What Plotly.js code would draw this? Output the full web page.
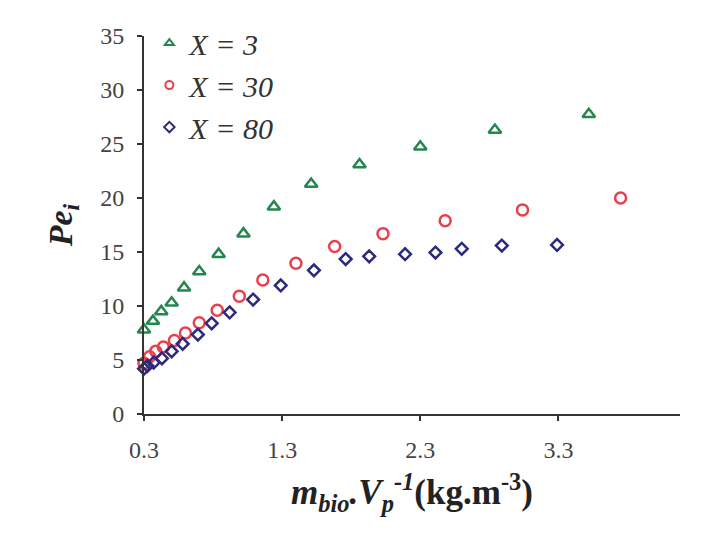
<!DOCTYPE html>
<html>
<head>
<meta charset="utf-8">
<script src="https://cdn.plot.ly/plotly-3.0.1.min.js"></script>
<style>
  html, body { margin: 0; padding: 0; background: #fff; }
  #chart { width: 714px; height: 539px; }
</style>
</head>
<body>
<div id="chart"></div>
<script>
// X = 3 series (green triangles)
const x3 = [0.30, 0.365, 0.425, 0.50, 0.59, 0.70, 0.84, 1.02, 1.24, 1.51, 1.86, 2.30, 2.84, 3.52];
const y3 = [7.8, 8.6, 9.5, 10.3, 11.7, 13.2, 14.8, 16.7, 19.2, 21.3, 23.1, 24.75, 26.3, 27.75];

// X = 30 series (red circles)
const x30 = [0.30, 0.34, 0.385, 0.44, 0.52, 0.60, 0.70, 0.83, 0.99, 1.16, 1.40, 1.68, 2.03, 2.48, 3.04, 3.75];
const y30 = [4.7, 5.3, 5.8, 6.2, 6.8, 7.5, 8.45, 9.6, 10.9, 12.4, 13.95, 15.5, 16.7, 17.9, 18.9, 20.0];

// X = 80 series (blue diamonds)
const x80 = [0.30, 0.325, 0.37, 0.43, 0.50, 0.58, 0.69, 0.79, 0.92, 1.09, 1.29, 1.53, 1.76, 1.93, 2.19, 2.41, 2.60, 2.89, 3.29];
const y80 = [4.2, 4.45, 4.75, 5.15, 5.8, 6.5, 7.35, 8.4, 9.4, 10.6, 11.9, 13.3, 14.35, 14.6, 14.8, 14.95, 15.3, 15.6, 15.65];

const seriesNames = ['X = 3', 'X = 30', 'X = 80'];
const xTicks = [0.3, 1.3, 2.3, 3.3];

const serif = 'Liberation Serif, Times New Roman, serif';
const colors = ['#23874f', '#e8404e', '#2c2a7c'];
const symbols = ['triangle-up-open', 'circle-open', 'diamond-open'];

function series(x, y, i, size) {
  return {
    x: x,
    y: y,
    name: seriesNames[i],
    legendgroup: seriesNames[i],
    showlegend: false,
    type: 'scatter',
    mode: 'markers',
    cliponaxis: false,
    marker: {
      symbol: symbols[i],
      size: size,
      color: colors[i],
      line: { color: colors[i], width: 2.5 }
    }
  };
}

// legend entries use smaller symbols, like the reference
function legendEntry(i) {
  return {
    x: [null],
    y: [null],
    name: seriesNames[i],
    legendgroup: seriesNames[i],
    type: 'scatter',
    mode: 'markers',
    marker: {
      symbol: symbols[i],
      size: 8,
      color: colors[i],
      line: { color: colors[i], width: 2 }
    }
  };
}

const data = [
  series(x3, y3, 0, 11),
  series(x30, y30, 1, 11),
  series(x80, y80, 2, 9),
  legendEntry(0),
  legendEntry(1),
  legendEntry(2)
];

const layout = {
  width: 714,
  height: 539,
  paper_bgcolor: '#fff',
  plot_bgcolor: '#fff',
  margin: { l: 144, r: 34, t: 36, b: 125 },
  showlegend: true,
  legend: {
    x: 0.01,
    y: 1.05,
    xanchor: 'left',
    yanchor: 'top',
    bgcolor: 'rgba(0,0,0,0)',
    itemsizing: 'trace',
    tracegroupgap: 0,
    font: { family: serif, size: 30, color: '#333', style: 'italic' }
  },
  xaxis: {
    range: [0.3, 4.18],
    tickvals: xTicks,
    ticktext: xTicks.map(v => v.toFixed(1)),
    showline: true,
    linecolor: '#333',
    linewidth: 2,
    ticks: 'outside',
    ticklen: 5,
    tickwidth: 2,
    tickcolor: '#333',
    ticklabelstandoff: 8,
    showgrid: false,
    zeroline: false,
    tickfont: { family: serif, size: 24, color: '#444' },
    title: {
      text: '<b><i>m<sub>bio</sub>.V<sub>p</sub><sup>-1</sup></i>(kg.m<sup>-3</sup>)</b>',
      font: { family: serif, size: 35, color: '#222' },
      standoff: 18
    }
  },
  yaxis: {
    range: [0, 35],
    dtick: 5,
    showline: true,
    linecolor: '#333',
    linewidth: 2,
    ticks: 'outside',
    ticklen: 5,
    tickwidth: 2,
    tickcolor: '#333',
    ticklabelstandoff: 8,
    showgrid: false,
    zeroline: false,
    tickfont: { family: serif, size: 24, color: '#444' },
    title: {
      text: '<b><i>Pe<sub>i</sub></i></b>',
      font: { family: serif, size: 34, color: '#222' },
      standoff: 17
    }
  }
};

Plotly.newPlot('chart', data, layout, { displayModeBar: false, staticPlot: true });
</script>
</body>
</html>
